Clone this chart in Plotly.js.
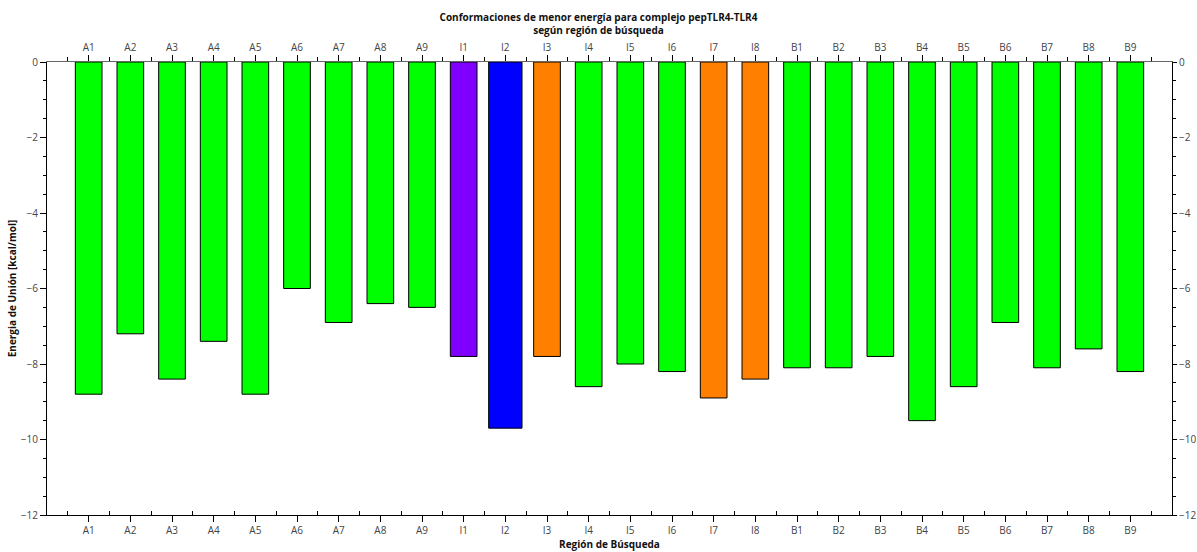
<!DOCTYPE html>
<html>
<head>
<meta charset="utf-8">
<script src="https://cdn.plot.ly/plotly-3.0.1.min.js"></script>
<style>html,body{margin:0;padding:0;background:#fff;}#chart{width:1197px;height:552px;}</style>
</head>
<body>
<div id="chart"></div>
<script>
const categories = ["A1","A2","A3","A4","A5","A6","A7","A8","A9","I1","I2","I3","I4","I5","I6","I7","I8","B1","B2","B3","B4","B5","B6","B7","B8","B9"];
const energies = [-8.8,-7.2,-8.4,-7.4,-8.8,-6.0,-6.9,-6.4,-6.5,-7.8,-9.7,-7.8,-8.6,-8.0,-8.2,-8.9,-8.4,-8.1,-8.1,-7.8,-9.5,-8.6,-6.9,-8.1,-7.6,-8.2];
const yTickVals = [0,-2,-4,-6,-8,-10,-12];

const colorMap = {I1:"#8000ff", I2:"#0000ff", I3:"#ff8000", I7:"#ff8000", I8:"#ff8000"};
const xs = categories.map((c,i)=>i+1);
const colors = categories.map(c => colorMap[c] || "#00ff00");
const widths = categories.map(c => c === "I2" ? 0.8 : 0.64);

const font = "Open Sans, Noto Sans, sans-serif";
const tickFont = {family: font, size: 10, color: "#444"};

const axisCommon = {
  showgrid: false, zeroline: false, showline: true, linecolor: "#000", linewidth: 1,
  ticks: "outside", ticklen: 6, tickcolor: "#000", tickfont: tickFont
};

const traces = [
  {
    type: "bar", x: xs, y: energies, width: widths,
    marker: {color: colors, line: {color: "#000", width: 1}},
    hoverinfo: "skip", showlegend: false
  },
  {
    type: "scatter", mode: "markers", x: xs, y: energies, xaxis: "x2", yaxis: "y2",
    marker: {opacity: 0}, hoverinfo: "skip", showlegend: false
  }
];

const layout = {
  width: 1197, height: 552,
  margin: {l: 47, r: 25, t: 62, b: 37},
  paper_bgcolor: "#fff", plot_bgcolor: "#fff",
  title: {
    text: "<b>Conformaciones de menor energía para complejo pepTLR4-TLR4<br>según región de búsqueda</b>",
    font: {family: font, size: 10, color: "#111"}, x: 0.5, xanchor: "center", y: 0.962, yanchor: "top"
  },
  xaxis: Object.assign({}, axisCommon, {
    range: [0, 27], tickmode: "array", tickvals: xs, ticktext: categories,
    minor: {tick0: 0.5, dtick: 1, ticks: "inside", ticklen: 4, tickcolor: "#000"},
    title: {text: "<b>Región de Búsqueda</b>", font: {family: font, size: 10, color: "#111"}, standoff: 4}
  }),
  yaxis: Object.assign({}, axisCommon, {
    range: [-12, 0], tickmode: "array", tickvals: yTickVals,
    minor: {tick0: 0, dtick: 0.5, ticks: "outside", ticklen: 3, tickcolor: "#000"},
    title: {text: "<b>Energia de Unión [kcal/mol]</b>", font: {family: font, size: 10, color: "#111"}, standoff: 2}
  }),
  xaxis2: Object.assign({}, axisCommon, {
    overlaying: "x", side: "top", anchor: "y2", linecolor: "#666",
    range: [0, 27], tickmode: "array", tickvals: xs, ticktext: categories,
    minor: {tick0: 0.5, dtick: 1, ticks: "outside", ticklen: 4, tickcolor: "#000"}
  }),
  yaxis2: Object.assign({}, axisCommon, {
    overlaying: "y", side: "right", anchor: "x2", ticklen: 4,
    range: [-12, 0], tickmode: "array", tickvals: yTickVals,
    minor: {tick0: 0, dtick: 0.5, ticks: "outside", ticklen: 3, tickcolor: "#000"}
  }),
  bargap: 0.3
};

Plotly.newPlot("chart", traces, layout, {staticPlot: true});
</script>
</body>
</html>
